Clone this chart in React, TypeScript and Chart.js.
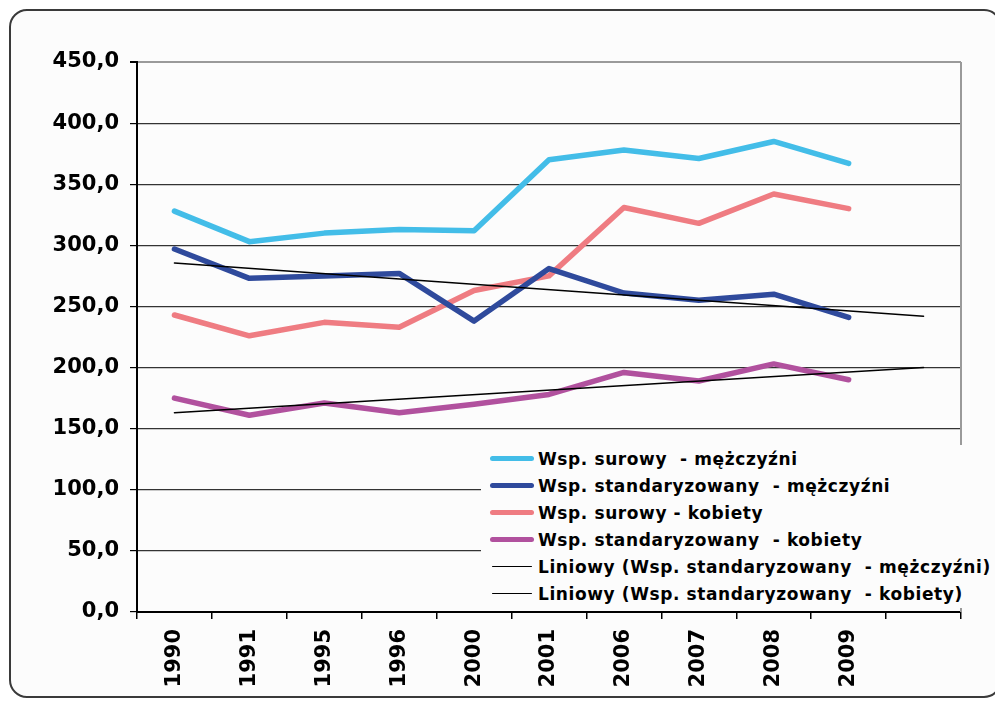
import React, { useEffect, useRef } from "react";
import { Chart, registerables } from "chart.js";

Chart.register(...registerables);

const categories = ["1990", "1991", "1995", "1996", "2000", "2001", "2006", "2007", "2008", "2009", ""];

const surowyMezczyzni = [328, 303, 310, 313, 312, 370, 378, 371, 385, 367, null];
const standMezczyzni = [297, 273, 275, 277, 238, 281, 261, 255, 260, 241, null];
const surowyKobiety = [243, 226, 237, 233, 263, 275, 331, 318, 342, 330, null];
const standKobiety = [175, 161, 171, 163, 170, 178, 196, 189, 203, 190, null];
// trend line end points (Excel linear trend, extended one period)
const trendMezczyzni = [285.5, null, null, null, null, null, null, null, null, null, 242];
const trendKobiety = [163, null, null, null, null, null, null, null, null, null, 200];

const seriesLabels = [
  "Wsp. surowy  - mężczyźni",
  "Wsp. standaryzowany  - mężczyźni",
  "Wsp. surowy - kobiety",
  "Wsp. standaryzowany  - kobiety",
  "Liniowy (Wsp. standaryzowany  - mężczyźni)",
  "Liniowy (Wsp. standaryzowany  - kobiety)",
];
const seriesColors = ["#43BDE8", "#2F4A9C", "#EF7C82", "#B1519E", "#000000", "#000000"];
const seriesWidths = [5.5, 5.5, 5.5, 5.5, 1.5, 1.5];

const FONT = "'DejaVu Sans', Verdana, sans-serif";

const plotBorder = {
  id: "plotBorder",
  afterDatasetsDraw(chart: any) {
    const { ctx, chartArea } = chart;
    ctx.save();
    ctx.strokeStyle = "#9a9a9a";
    ctx.lineWidth = 2;
    ctx.beginPath();
    ctx.moveTo(chartArea.right, chartArea.top);
    ctx.lineTo(chartArea.right, chartArea.bottom);
    ctx.stroke();
    ctx.restore();
  },
};

export default function App() {
  const ref = useRef<HTMLCanvasElement | null>(null);

  useEffect(() => {
    if (!ref.current) return;
    const allData = [surowyMezczyzni, standMezczyzni, surowyKobiety, standKobiety, trendMezczyzni, trendKobiety];
    const chart = new Chart(ref.current, {
      type: "line",
      data: {
        labels: categories,
        datasets: allData.map((d, i) => ({
          label: seriesLabels[i],
          data: d,
          borderColor: seriesColors[i],
          backgroundColor: seriesColors[i],
          borderWidth: seriesWidths[i],
          pointRadius: 0,
          tension: 0,
          spanGaps: i >= 4,
          borderCapStyle: "round",
          borderJoinStyle: "round",
          order: i >= 4 ? 0 : 1,
        })),
      },
      options: {
        animation: false,
        responsive: false,
        layout: { padding: { left: 0, top: 51, right: 39, bottom: 0 } },
        plugins: { legend: { display: false }, tooltip: { enabled: false } },
        scales: {
          x: {
            offset: true,
            grid: {
              offset: true,
              drawOnChartArea: false,
              drawTicks: true,
              tickLength: 7,
              color: "#000",
              lineWidth: 1.5,
            },
            border: { display: true, color: "#000", width: 2 },
            ticks: {
              minRotation: 90,
              maxRotation: 90,
              autoSkip: false,
              padding: 10,
              color: "#000",
              font: { family: FONT, size: 21, weight: "bold" },
            },
            afterFit(scale: any) {
              scale.height = 84;
            },
          },
          y: {
            min: 0,
            max: 450,
            ticks: {
              stepSize: 50,
              padding: 11,
              color: "#000",
              font: { family: FONT, size: 21, weight: "bold" },
              callback: (v: any) => Number(v).toFixed(1).replace(".", ","),
            },
            grid: {
              color: (c: any) => (c.tick && c.tick.value === 450 ? "#9a9a9a" : "#333"),
              lineWidth: (c: any) => (c.tick && c.tick.value === 450 ? 2 : 1.2),
              tickLength: 7,
              tickColor: "#000",
            },
            border: { display: true, color: "#000", width: 2 },
            afterFit(scale: any) {
              scale.width = 126;
            },
          },
        },
      },
      plugins: [plotBorder],
    });
    return () => chart.destroy();
  }, []);

  return (
    <div
      style={{
        position: "relative",
        width: 993,
        height: 689,
        marginLeft: 1,
        marginTop: 1,
        boxSizing: "border-box",
        border: "2px solid #3a3a3a",
        borderRadius: 18,
        background: "#fcfcfc",
        fontFamily: FONT,
      }}
    >
      <canvas ref={ref} width={989} height={685} style={{ position: "absolute", left: 0, top: 0 }} />
      <div
        style={{
          position: "absolute",
          left: 470,
          top: 434,
          width: 519,
          height: 163,
          background: "#fcfcfc",
        }}
      >
        {seriesLabels.map((lab, i) => (
          <div
            key={i}
            style={{ display: "flex", alignItems: "center", height: 27, whiteSpace: "pre" }}
          >
            <div style={{ width: 57, flex: "0 0 57px", display: "flex", justifyContent: "flex-start", alignItems: "center" }}>
              <div
                style={{
                  width: i >= 4 ? 40 : 44,
                  height: i >= 4 ? 1.5 : 5,
                  borderRadius: 3,
                  background: seriesColors[i],
                  marginLeft: i >= 4 ? 11 : 9,
                }}
              />
            </div>
            <span style={{ fontSize: 17, fontWeight: "bold", color: "#000", letterSpacing: 0.6 }}>{lab}</span>
          </div>
        ))}
      </div>
    </div>
  );
}
